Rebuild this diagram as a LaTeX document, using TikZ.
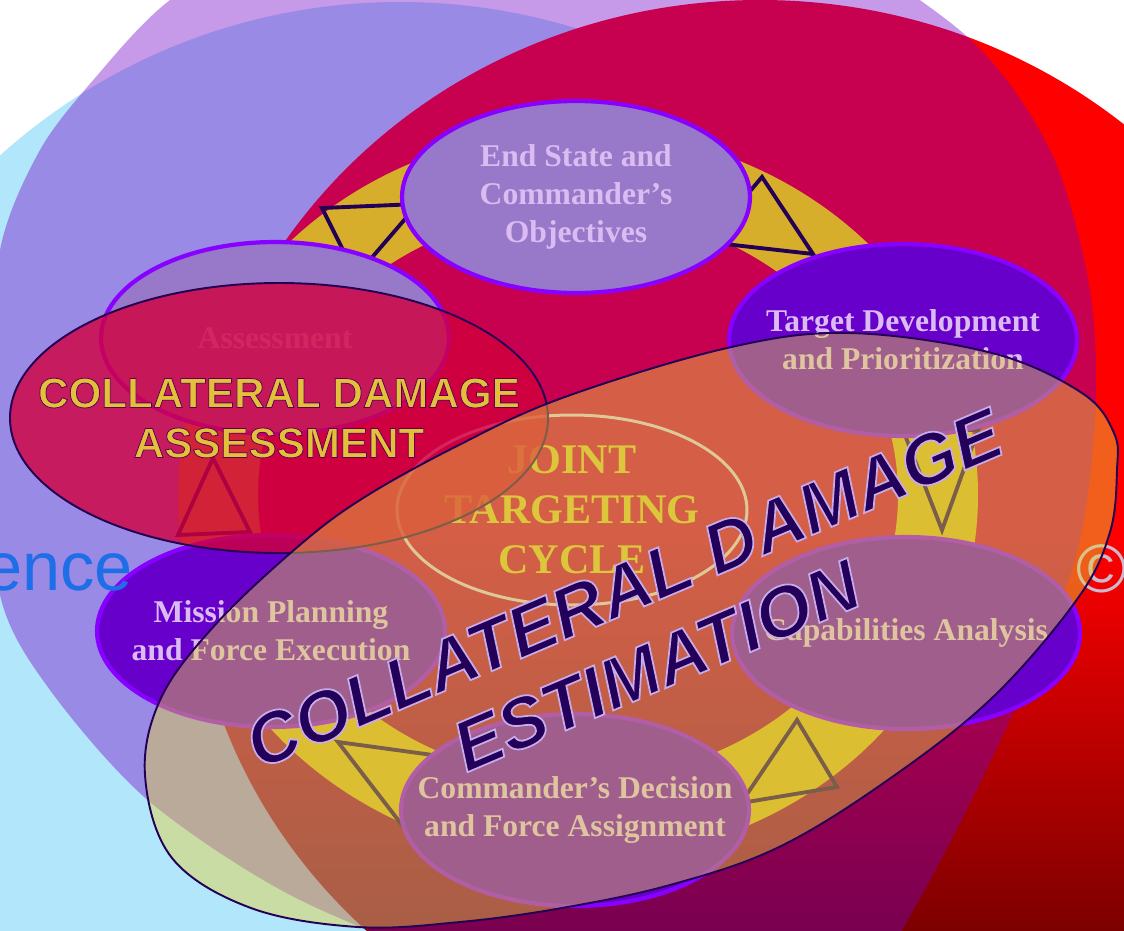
\documentclass[tikz,border=0pt]{standalone}
\usepackage{xcolor}
\usepackage{fontspec}
\setmainfont{Liberation Serif}
\newfontfamily\headfont{Liberation Sans}
\usepackage{tikz}
\usetikzlibrary{shapes.geometric}
\definecolor{skycyan}{RGB}{178,230,250}
\definecolor{hotred}{RGB}{255,0,0}
\definecolor{deepred}{RGB}{75,0,0}
\definecolor{haze}{RGB}{117,0,200}
\definecolor{ringgold}{RGB}{214,174,44}
\definecolor{navy}{RGB}{35,0,85}
\definecolor{violetfill}{RGB}{104,0,204}
\definecolor{violetrim}{RGB}{136,0,255}
\definecolor{dimfill}{RGB}{152,120,200}
\definecolor{labeltext}{RGB}{218,188,242}
\definecolor{cdafill}{RGB}{210,0,60}
\definecolor{cdefill}{RGB}{228,210,60}
\definecolor{cdatext}{RGB}{226,192,58}
\definecolor{cdetext}{RGB}{35,0,90}
\definecolor{cyclerim}{RGB}{220,192,228}
\definecolor{cycletext}{RGB}{215,190,60}
\definecolor{brandblue}{RGB}{30,110,232}
\definecolor{markgrey}{RGB}{205,185,205}
\newcommand{\drawtri}{\draw[triline]}
\newcommand{\rimtext}[3]{\special{pdf:literal direct #1 w #2 RG 2 Tr}#3\special{pdf:literal direct 0 Tr}}

\begin{document}
\begin{tikzpicture}[x=0.02cm, y=-0.02cm,
    stepnode/.style={ellipse, draw=violetrim, line width=2.4pt, fill=violetfill,
      minimum width=6.96cm, minimum height=3.84cm, inner xsep=-1cm, inner ysep=-0.6cm, align=center,
      text=labeltext, font=\bfseries\fontsize{18}{21.5}\selectfont},
    dimnode/.style={stepnode, fill=dimfill},
    triline/.style={draw=navy, line width=2.2pt},
    cdabox/.style={fill=cdafill, fill opacity=0.8, draw=navy, line width=1.1pt},
    cdebox/.style={fill=cdefill, fill opacity=0.45, draw=navy, line width=1.1pt},
    cdalabel/.style={align=center, text=cdatext, inner sep=0pt,
      font=\headfont\bfseries\fontsize{24}{28.4}\selectfont},
    cdelabel/.style={align=center, text=cdetext, inner sep=0pt,
      font=\headfont\bfseries\itshape\fontsize{40.5}{47.6}\selectfont}]
\useasboundingbox (0,0) rectangle (1124,930);
\clip (0,0) rectangle (1124,930);
\fill[white] (0,0) rectangle (1124,930);
% backdrop
\fill[skycyan] (400,600) circle [radius=598];
\shade[top color=hotred, bottom color=deepred, middle color=hotred] (760,540) ellipse [x radius=570, y radius=540];
\fill[haze, fill opacity=0.4] plot[smooth cycle] coordinates {(-12,420) (0,250) (40,150) (95,78) (170,0) (300,-80) (540,-130) (780,-80) (963,33) (1050,150) (1090,290) (1095,420) (1075,560) (1010,720) (920,898) (860,975) (700,995) (500,975) (300,900) (150,802) (50,690) (0,595)};
% ring and arrow heads
\fill[ringgold, even odd rule] (578,495) ellipse [x radius=400, y radius=365] (578,495) ellipse [x radius=320, y radius=285];
\drawtri (322,208)--(418,204)--(356,276)--cycle;
\drawtri (762,177)--(813,254)--(707,242)--cycle;
\drawtri (903,430)--(978,430)--(942,530)--cycle;
\drawtri (797,720)--(837,787)--(741,803)--cycle;
\drawtri (338,742)--(440,756)--(402,825)--cycle;
\drawtri (213,458)--(250,532)--(178,535)--cycle;
% centre
\node[ellipse, draw=cyclerim, line width=1.7pt, minimum width=7cm, minimum height=3.8cm, inner xsep=-1cm, inner ysep=-0.6cm,
  align=center, text=cycletext, font=\bfseries\fontsize{24}{28.4}\selectfont] (cycle) at (572,510) {JOINT\\TARGETING\\CYCLE};
% steps
\node[dimnode] (endstate) at (576,197) {End State and\\Commander’s\\Objectives};
\node[stepnode] (targetdev) at (903,340) {Target Development\\and Prioritization};
\node[stepnode] (capab) at (906,633) {Capabilities Analysis};
\node[stepnode] (decision) at (575,810) {Commander’s Decision\\and Force Assignment};
\node[stepnode] (mission) at (271,631) {Mission Planning\\and Force Execution};
\node[dimnode] (assess) at (275,338) {Assessment};
\node[anchor=base east, inner sep=0pt, text=brandblue, font=\headfont\fontsize{39}{39}\selectfont] (brand) at (133,590) {ence};
\node[anchor=base west, inner sep=0pt, text=markgrey, font=\headfont\fontsize{39}{39}\selectfont] (mark) at (1076,592) {©};
% collateral damage
\filldraw[cdabox] (279,418) ellipse [x radius=269, y radius=135];
\node[cdalabel] (cda) at (279,418) {\rimtext{0.45}{0.37 0 0.33}{COLLATERAL DAMAGE\\ASSESSMENT}};
\filldraw[cdebox] plot[smooth cycle, tension=0.6] coordinates {(145,775) (161,698) (215,625) (294,550) (360,500) (455,447) (562,398) (727,348) (849,333) (992,353) (1082,393) (1114,433) (1117,470) (1110,532) (1078,598) (992,698) (885,782) (777,848) (670,885) (562,908) (460,922) (358,927) (251,908) (172,858)};
\node[cdelabel, rotate=23] (cde) at (640,627) {\rimtext{1.0}{0.78 0.67 0.92}{COLLATERAL DAMAGE\\ESTIMATION}};
\end{tikzpicture}
\end{document}
